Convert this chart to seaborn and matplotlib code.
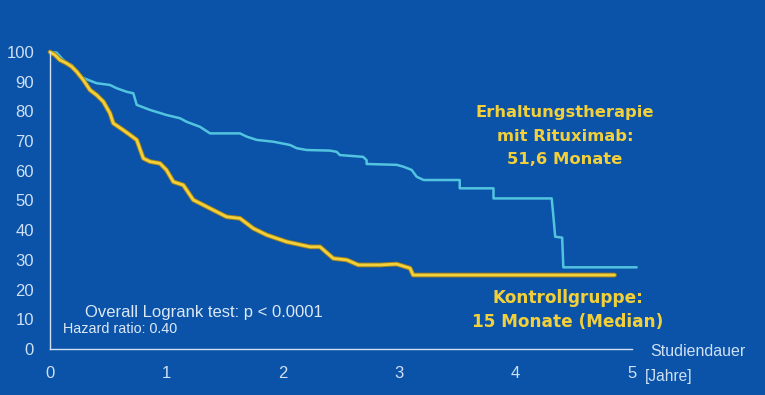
import numpy as np
import pandas as pd
import matplotlib
matplotlib.use("Agg")
import matplotlib.pyplot as plt
import matplotlib.patheffects as pe
import seaborn as sns

# ---- data (vertices of the survival curves) ----
ritux_t = [0, 0.057, 0.10, 0.143, 0.186, 0.258, 0.315, 0.40, 0.515, 0.573, 0.659, 0.716,
           0.745, 0.859, 1.00, 1.117, 1.174, 1.289, 1.375, 1.632, 1.69, 1.776, 1.918,
           2.062, 2.12, 2.205, 2.405, 2.463, 2.49, 2.69, 2.72, 2.72, 2.98, 3.035, 3.107,
           3.15, 3.21, 3.52, 3.52, 3.81, 3.81, 4.31, 4.325, 4.34, 4.40, 4.41, 5.04]
ritux_s = [100, 99.8, 97.9, 96.2, 95.6, 91.7, 90.8, 89.5, 88.9, 87.8, 86.6, 86.1,
           82.2, 80.5, 78.8, 77.7, 76.5, 74.8, 72.6, 72.6, 71.5, 70.4, 69.8,
           68.7, 67.6, 67.0, 66.8, 66.4, 65.3, 64.7, 63.6, 62.3, 62.0, 61.4, 60.3,
           58.0, 56.9, 56.9, 54.1, 54.1, 50.7, 50.7, 44.5, 37.8, 37.5, 27.5, 27.5]

ctrl_t = [0, 0.043, 0.086, 0.143, 0.186, 0.229, 0.286, 0.344, 0.401, 0.458, 0.515, 0.544,
          0.63, 0.687, 0.745, 0.802, 0.859, 0.945, 1.00, 1.06, 1.145, 1.231, 1.317, 1.432,
          1.518, 1.632, 1.747, 1.862, 2.033, 2.234, 2.32, 2.434, 2.549, 2.649, 2.835,
          2.978, 3.093, 3.12, 4.85]
ctrl_s = [100, 99.0, 97.3, 96.2, 95.1, 93.4, 90.6, 87.2, 85.5, 83.3, 79.4, 76.0,
          73.7, 72.1, 70.4, 64.2, 63.1, 62.5, 60.3, 56.3, 55.2, 50.2, 48.5, 46.2,
          44.5, 44.0, 40.6, 38.4, 36.1, 34.4, 34.4, 30.5, 30.0, 28.3, 28.3,
          28.6, 27.2, 24.9, 24.9]

x_ticks = [0, 1, 2, 3, 4, 5]
y_ticks = [0, 10, 20, 30, 40, 50, 60, 70, 80, 90, 100]

label_ritux = ["Erhaltungstherapie", "mit Rituximab:", "51,6 Monate"]
label_ctrl = ["Kontrollgruppe:", "15 Monate (Median)"]
stat_text = "Overall Logrank test: p < 0.0001"
hr_text = "Hazard ratio: 0.40"

# ---- style ----
BG = "#0a53a8"
AX = "#cfe0f4"
CYAN = "#52c4e0"
YEL = "#f3d03a"

sns.set_theme(style="white")
plt.rcParams["font.family"] = ["Liberation Sans", "DejaVu Sans"]

W, H = 765, 395
fig = plt.figure(figsize=(W / 100, H / 100), dpi=100, facecolor=BG)
px_per_year = 116.4
ax_left, ax_right = 50, 650
ax_bottom, ax_top = 349, 52
ax = fig.add_axes([ax_left / W, (H - ax_bottom) / H,
                   (ax_right - ax_left) / W, (ax_bottom - ax_top) / H])
ax.set_facecolor(BG)
ax.set_xlim(0, (ax_right - ax_left) / px_per_year)
ax.set_ylim(0, 100)

df_r = pd.DataFrame({"t": ritux_t, "s": ritux_s})
df_c = pd.DataFrame({"t": ctrl_t, "s": ctrl_s})

sns.lineplot(data=df_r, x="t", y="s", ax=ax, color=CYAN, lw=1.8,
             estimator=None, sort=False, clip_on=False)
sns.lineplot(data=df_c, x="t", y="s", ax=ax, color=YEL, lw=2.0,
             estimator=None, sort=False, clip_on=False,
             path_effects=[pe.Stroke(linewidth=3.4, foreground="#a08220"), pe.Normal()])

for s in ["top", "right"]:
    ax.spines[s].set_visible(False)
ax.spines["left"].set_color(AX)
ax.spines["bottom"].set_color(AX)
ax.spines["left"].set_linewidth(1.0)
ax.spines["bottom"].set_linewidth(1.0)
ax.spines["bottom"].set_bounds(0, 5)
ax.spines["left"].set_bounds(0, 100)

ax.set_xticks(x_ticks)
ax.set_yticks(y_ticks)
ax.set_xticklabels([str(v) for v in x_ticks])
ax.set_yticklabels([str(v) for v in y_ticks])
ax.tick_params(axis="both", colors=AX, labelcolor=AX, labelsize=12,
               length=6.5, width=1.0, direction="out")
ax.tick_params(axis="x", pad=6)
ax.tick_params(axis="y", pad=5)
ax.set_xlabel("")
ax.set_ylabel("")

# annotations
for i, line in enumerate(label_ritux):
    fig.text(565 / W, 1 - (113 + 23.5 * i) / H, line, color=YEL, fontsize=11.8,
             fontweight="bold", family=["DejaVu Sans"], ha="center", va="center")
for i, line in enumerate(label_ctrl):
    fig.text(568 / W, 1 - (298 + 24 * i) / H, line, color=YEL, fontsize=12.2,
             fontweight="bold", family=["DejaVu Sans"], ha="center", va="center")

fig.text(85 / W, 1 - 313 / H, stat_text, color="#dde8f6", fontsize=12,
         ha="left", va="center")
fig.text(63 / W, 1 - 329 / H, hr_text, color="#dde8f6", fontsize=10.4,
         ha="left", va="center")
fig.text(650 / W, 1 - 352 / H, "Studiendauer", color=AX, fontsize=11.5,
         ha="left", va="center")
fig.text(645 / W, 1 - 377 / H, "[Jahre]", color=AX, fontsize=11.2,
         ha="left", va="center")

fig.savefig("out.png", dpi=100, facecolor=BG)
